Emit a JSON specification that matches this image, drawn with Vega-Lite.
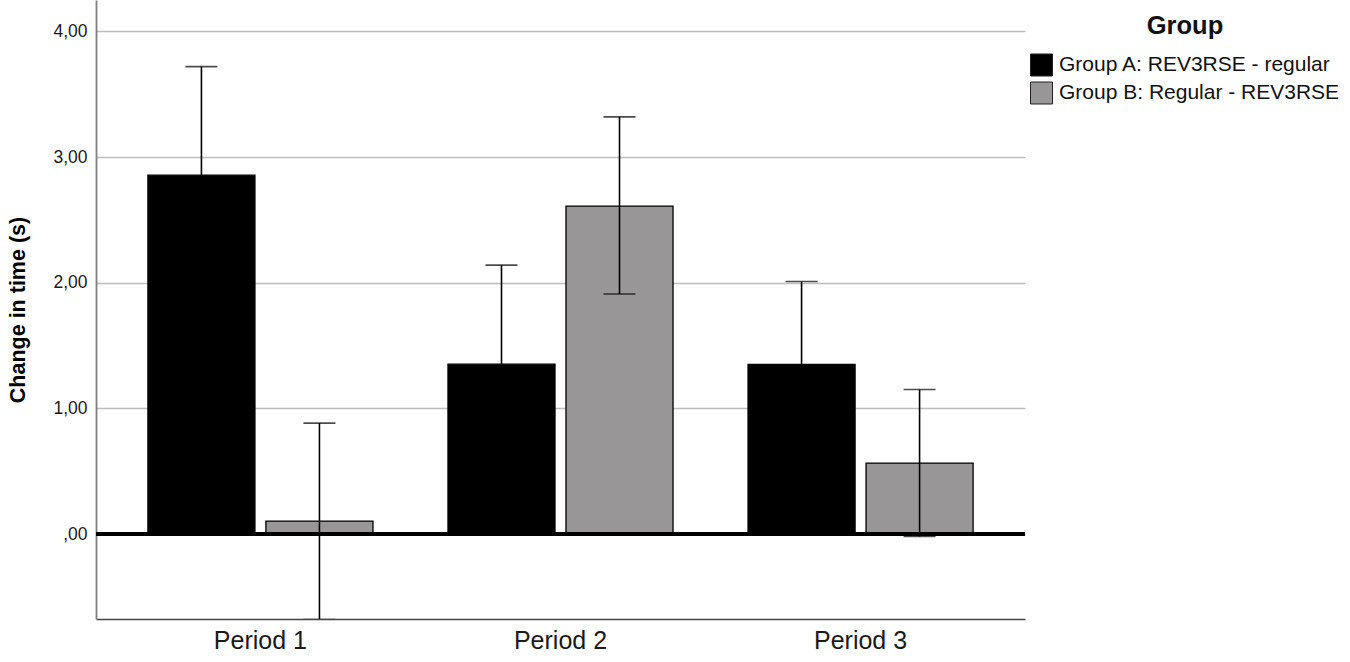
{
  "$schema": "https://vega.github.io/schema/vega-lite/v6.json",
  "autosize": "none",
  "padding": {"left": 96, "top": 0, "right": 325, "bottom": 43},
  "width": 929,
  "height": 619,
  "background": "white",
  "config": {
    "font": "Liberation Sans",
    "view": {"stroke": null}
  },
  "data": {
    "values": [
      {"period": "Period 1", "group": "Group A: REV3RSE - regular", "mean": 2.856, "lower": 1.99, "upper": 3.72},
      {"period": "Period 1", "group": "Group B: Regular - REV3RSE", "mean": 0.103, "lower": -0.68, "upper": 0.883},
      {"period": "Period 2", "group": "Group A: REV3RSE - regular", "mean": 1.352, "lower": 0.56, "upper": 2.14},
      {"period": "Period 2", "group": "Group B: Regular - REV3RSE", "mean": 2.61, "lower": 1.91, "upper": 3.32},
      {"period": "Period 3", "group": "Group A: REV3RSE - regular", "mean": 1.35, "lower": 0.69, "upper": 2.01},
      {"period": "Period 3", "group": "Group B: Regular - REV3RSE", "mean": 0.565, "lower": -0.02, "upper": 1.15}
    ]
  },
  "encoding": {
    "x": {
      "field": "period",
      "type": "nominal",
      "title": null,
      "scale": {"paddingInner": 0.25, "paddingOuter": 0.173},
      "axis": {
        "labelAngle": 0,
        "labelFontSize": 25,
        "labelColor": "#1a1a1a",
        "labelPadding": 9,
        "ticks": false,
        "domainColor": "#444444",
        "domainWidth": 1.5
      }
    },
    "xOffset": {
      "field": "group",
      "type": "nominal",
      "scale": {"paddingInner": 0.093, "paddingOuter": 0}
    }
  },
  "layer": [
    {
      "mark": {"type": "bar", "stroke": "#000000", "strokeWidth": 1.3, "clip": true},
      "encoding": {
        "y": {
          "field": "mean",
          "type": "quantitative",
          "title": "Change in time (s)",
          "scale": {"domain": [-0.676, 4.25], "nice": false, "zero": false},
          "axis": {
            "values": [0, 1, 2, 3, 4],
            "labelExpr": "datum.value == 0 ? ',00' : replace(format(datum.value, '.2f'), '.', ',')",
            "labelFontSize": 17.5,
            "labelColor": "#1a1a1a",
            "labelPadding": 9,
            "ticks": false,
            "titleFontSize": 21.5,
            "titleFontWeight": "bold",
            "titleColor": "#000000",
            "titlePadding": 23,
            "domainColor": "#808080",
            "domainWidth": 1.8,
            "gridColor": "#bdbdbd",
            "gridWidth": 1.5
          }
        },
        "color": {
          "field": "group",
          "type": "nominal",
          "scale": {"range": ["#000000", "#989696"]},
          "legend": {
            "title": "Group",
            "orient": "none",
            "legendX": 934,
            "legendY": 14,
            "titleFontSize": 25.5,
            "titleFontWeight": "bold",
            "titleColor": "#111111",
            "titleAnchor": "middle",
            "titlePadding": 14,
            "labelFontSize": 21,
            "labelColor": "#111111",
            "labelOffset": 6,
            "labelLimit": 500,
            "symbolType": "square",
            "symbolSize": 484,
            "symbolStrokeColor": "#222222",
            "symbolStrokeWidth": 1,
            "rowPadding": 1
          }
        }
      }
    },
    {
      "mark": {"type": "rule", "color": "#000000", "strokeWidth": 1.6, "clip": true},
      "encoding": {
        "y": {"field": "lower", "type": "quantitative"},
        "y2": {"field": "upper"}
      }
    },
    {
      "mark": {"type": "tick", "color": "#000000", "thickness": 1.6, "size": 32, "clip": true},
      "encoding": {
        "y": {"field": "upper", "type": "quantitative"}
      }
    },
    {
      "mark": {"type": "tick", "color": "#000000", "thickness": 1.6, "size": 32, "clip": true},
      "encoding": {
        "y": {"field": "lower", "type": "quantitative"}
      }
    },
    {
      "data": {"values": [{"zero": 0}]},
      "mark": {"type": "rule", "color": "#000000", "strokeWidth": 4},
      "encoding": {
        "x": null,
        "xOffset": null,
        "y": {"field": "zero", "type": "quantitative"}
      }
    }
  ]
}
